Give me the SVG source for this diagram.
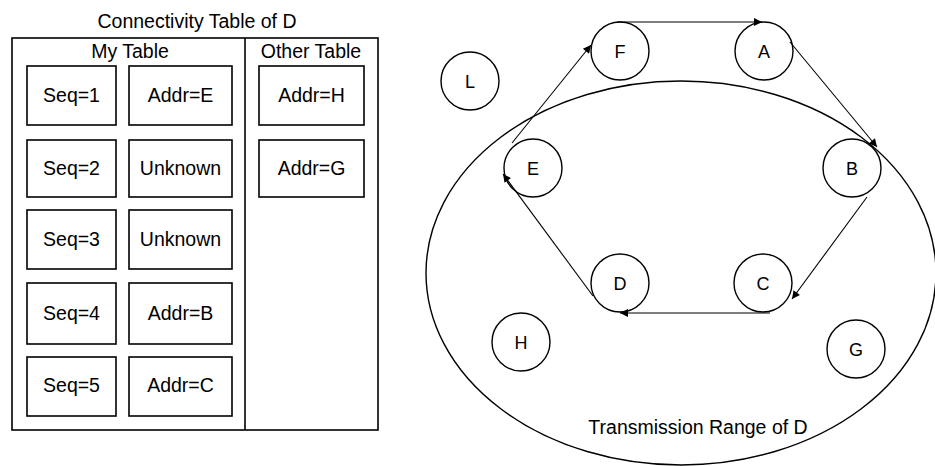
<svg xmlns="http://www.w3.org/2000/svg" width="935" height="466" viewBox="0 0 935 466">
<style>
text{font-family:"Liberation Sans",Arial,sans-serif;font-size:19.5px;fill:#000;text-anchor:middle}
text.n{font-size:18px}
.box{fill:#fff;stroke:#000;stroke-width:1.6}
.node{fill:#fff;stroke:#000;stroke-width:1.4}
.edge{fill:none;stroke:#000;stroke-width:1.1;marker-end:url(#arr)}
</style>
<defs>
<marker id="arr" viewBox="0 0 10 10" refX="10" refY="5" markerWidth="11" markerHeight="8" markerUnits="userSpaceOnUse" orient="auto">
<path d="M0,0 L10,5 L0,10 z" fill="#000"/>
</marker>
</defs>
<rect width="935" height="466" fill="#fff"/>
<g id="table">
<text x="197" y="28">Connectivity Table of D</text>
<rect class="box" x="12" y="38" width="366" height="392"/>
<line x1="245" y1="38" x2="245" y2="430" stroke="#000" stroke-width="1.6"/>
<text x="130" y="58">My Table</text>
<text x="311" y="58">Other Table</text>
</g>
<g id="seq1"><rect class="box" x="27" y="66" width="89" height="59"/><text x="71.5" y="102">Seq=1</text></g>
<g id="addrE"><rect class="box" x="129" y="66" width="103" height="59"/><text x="180.5" y="102">Addr=E</text></g>
<g id="seq2"><rect class="box" x="27" y="140" width="89" height="57"/><text x="71.5" y="175">Seq=2</text></g>
<g id="unk2"><rect class="box" x="129" y="140" width="103" height="57"/><text x="180.5" y="175">Unknown</text></g>
<g id="seq3"><rect class="box" x="27" y="210" width="89" height="59"/><text x="71.5" y="246">Seq=3</text></g>
<g id="unk3"><rect class="box" x="129" y="210" width="103" height="59"/><text x="180.5" y="246">Unknown</text></g>
<g id="seq4"><rect class="box" x="27" y="283" width="89" height="61"/><text x="71.5" y="320">Seq=4</text></g>
<g id="addrB"><rect class="box" x="129" y="283" width="103" height="61"/><text x="180.5" y="320">Addr=B</text></g>
<g id="seq5"><rect class="box" x="27" y="357" width="89" height="59"/><text x="71.5" y="392">Seq=5</text></g>
<g id="addrC"><rect class="box" x="129" y="357" width="103" height="59"/><text x="180.5" y="392">Addr=C</text></g>
<g id="addrH"><rect class="box" x="259" y="66" width="105" height="59"/><text x="311.5" y="102">Addr=H</text></g>
<g id="addrG"><rect class="box" x="259" y="140" width="105" height="57"/><text x="311.5" y="175">Addr=G</text></g>

<g id="range">
<ellipse cx="681" cy="273" rx="255" ry="192" fill="none" stroke="#000" stroke-width="1.4"/>
<text x="698" y="434">Transmission Range of D</text>
</g>
<g id="L"><circle class="node" cx="470" cy="81" r="29"/><text class="n" x="470" y="88">L</text></g>
<g id="F"><circle class="node" cx="620" cy="51" r="29"/><text class="n" x="620" y="58">F</text></g>
<g id="A"><circle class="node" cx="764" cy="51" r="29"/><text class="n" x="764" y="58">A</text></g>
<g id="E"><circle class="node" cx="533" cy="168" r="29"/><text class="n" x="533" y="175">E</text></g>
<g id="B"><circle class="node" cx="852" cy="168" r="29"/><text class="n" x="852" y="175">B</text></g>
<g id="D"><circle class="node" cx="620" cy="283" r="29"/><text class="n" x="620" y="290">D</text></g>
<g id="C"><circle class="node" cx="763" cy="283" r="29"/><text class="n" x="763" y="290">C</text></g>
<g id="H"><circle class="node" cx="521" cy="342" r="29"/><text class="n" x="521" y="349">H</text></g>
<g id="G"><circle class="node" cx="856" cy="349" r="29"/><text class="n" x="856" y="356">G</text></g>

<g id="connectors">
<path class="edge" d="M617,22 L762,22"/>
<path class="edge" d="M790,42 L877,147"/>
<path class="edge" d="M867,197 L792,299"/>
<path class="edge" d="M770,313 L620,313"/>
<path class="edge" d="M593,296 L503,174"/>
<path class="edge" d="M512,143 L591,45"/>
</g>
</svg>
